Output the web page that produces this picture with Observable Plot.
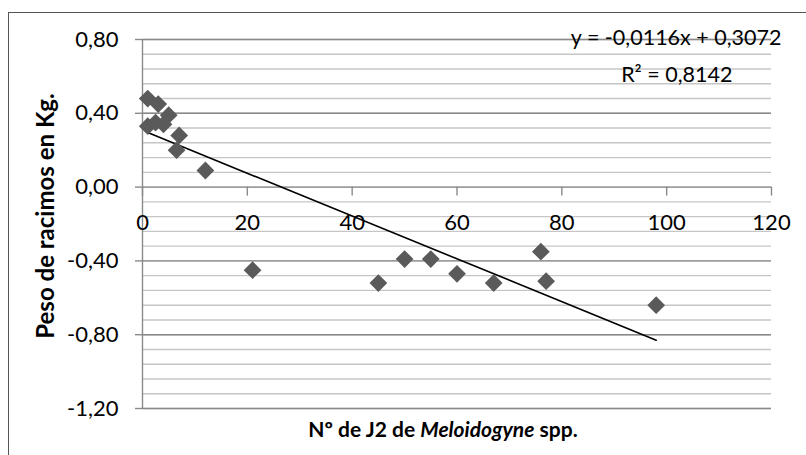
<!DOCTYPE html>
<html><head><meta charset="utf-8">
<script src="https://cdn.jsdelivr.net/npm/d3@7"></script>
<script src="https://cdn.jsdelivr.net/npm/@observablehq/plot@0.6"></script>
<style>body{margin:0;background:#fff} svg{display:block}</style>
</head><body><div id="chart"></div>
<script>
// Data
const nematodes = [1, 3, 5, 1, 2.5, 4, 7, 6.5, 12, 21, 45, 50, 55, 60, 67, 76, 77, 98];
const weights   = [0.48, 0.45, 0.39, 0.33, 0.35, 0.34, 0.28, 0.20, 0.09, -0.45, -0.52, -0.39, -0.39, -0.47, -0.52, -0.35, -0.51, -0.64];
const xTicks = [0, 20, 40, 60, 80, 100, 120];
const yTicks = [-1.2, -0.8, -0.4, 0, 0.4, 0.8];
const yMinor = [-1.2,-1.12,-1.04,-0.96,-0.88,-0.8,-0.72,-0.64,-0.56,-0.48,-0.4,-0.32,-0.24,-0.16,-0.08,0,0.08,0.16,0.24,0.32,0.4,0.48,0.56,0.64,0.72,0.8];
const slope = -0.0116, intercept = 0.3072, r2 = 0.8142;
const equationText = "y = -0,0116x + 0,3072";
const r2Text = "R² = 0,8142";
const yTitle = "Peso de racimos en Kg.";

const points = nematodes.map((x, i) => ({x, y: weights[i]}));
const xmin = d3.min(nematodes), xmax = d3.max(nematodes);
const trend = [xmin, xmax].map(x => ({x, y: slope * x + intercept}));
const fmt = d => d.toFixed(2).replace(".", ",");

const font = "Lato, 'Open Sans', sans-serif";
const plot = Plot.plot({
  width: 806, height: 455,
  marginLeft: 142, marginRight: 35, marginTop: 39, marginBottom: 47,
  style: {fontFamily: font, fontSize: "22px", background: "white", color: "#000"},
  x: {domain: [0, 120], axis: null},
  y: {domain: [-1.2, 0.8]},
  marks: [
    Plot.ruleY(yMinor, {x1: 0, x2: 120, stroke: "#c6c6c6", strokeWidth: 1.4}),
    Plot.ruleY(yTicks, {x1: 0, x2: 120, stroke: "#8a8a8a", strokeWidth: 1.4}),
    Plot.ruleX([0], {stroke: "#8a8a8a", strokeWidth: 1.4}),
    Plot.ruleY(yTicks, {x1: 0, x2: 0, insetLeft: -7, stroke: "#8a8a8a", strokeWidth: 1.4}),
    Plot.ruleX(xTicks, {x: d => d, y1: 0, y2: 0, insetBottom: -9, stroke: "#8a8a8a", strokeWidth: 1.4}),
    Plot.axisY(yTicks, {tickSize: 0, tickPadding: 24, tickFormat: fmt, fontSize: 22, label: null}),
    Plot.text(xTicks, {x: d => d, y: 0, dy: 36, text: d => String(d), fontSize: 22, fill: "#000"}),
    Plot.line(trend, {x: "x", y: "y", stroke: "#000", strokeWidth: 1.6}),
    Plot.dot(points, {x: "x", y: "y", symbol: "diamond2", r: 8, fill: "#5a5a5a"}),
    Plot.text([equationText], {frameAnchor: "top-right", text: d => d, textAnchor: "end", lineAnchor: "bottom", dx: 10, dy: 5, fontSize: 21.5, fill: "#000"}),
    Plot.text([r2Text], {frameAnchor: "top-right", text: d => d, textAnchor: "end", lineAnchor: "bottom", dx: -39, dy: 42, fontSize: 21.5, fill: "#000"}),
    Plot.text([yTitle], {frameAnchor: "left", text: d => d, rotate: -90, textAnchor: "middle", lineAnchor: "middle", dx: -96, dy: -8, fontSize: 24, fontWeight: "bold", fill: "#000"})
  ]
});
document.getElementById("chart").appendChild(plot);

const svg = d3.select(plot);
svg.append("rect").attr("x", 8.5).attr("y", 12.5).attr("width", 900).attr("height", 600)
  .attr("fill", "none").attr("stroke", "#555").attr("stroke-width", 1);
const t = svg.append("text").attr("x", 443).attr("y", 437).attr("text-anchor", "middle")
  .attr("font-family", font).attr("font-size", 21).attr("font-weight", "bold").attr("fill", "#000");
t.append("tspan").text("Nº de J2 de ");
t.append("tspan").attr("font-style", "italic").text("Meloidogyne");
t.append("tspan").text(" spp.");
</script>
</body></html>
